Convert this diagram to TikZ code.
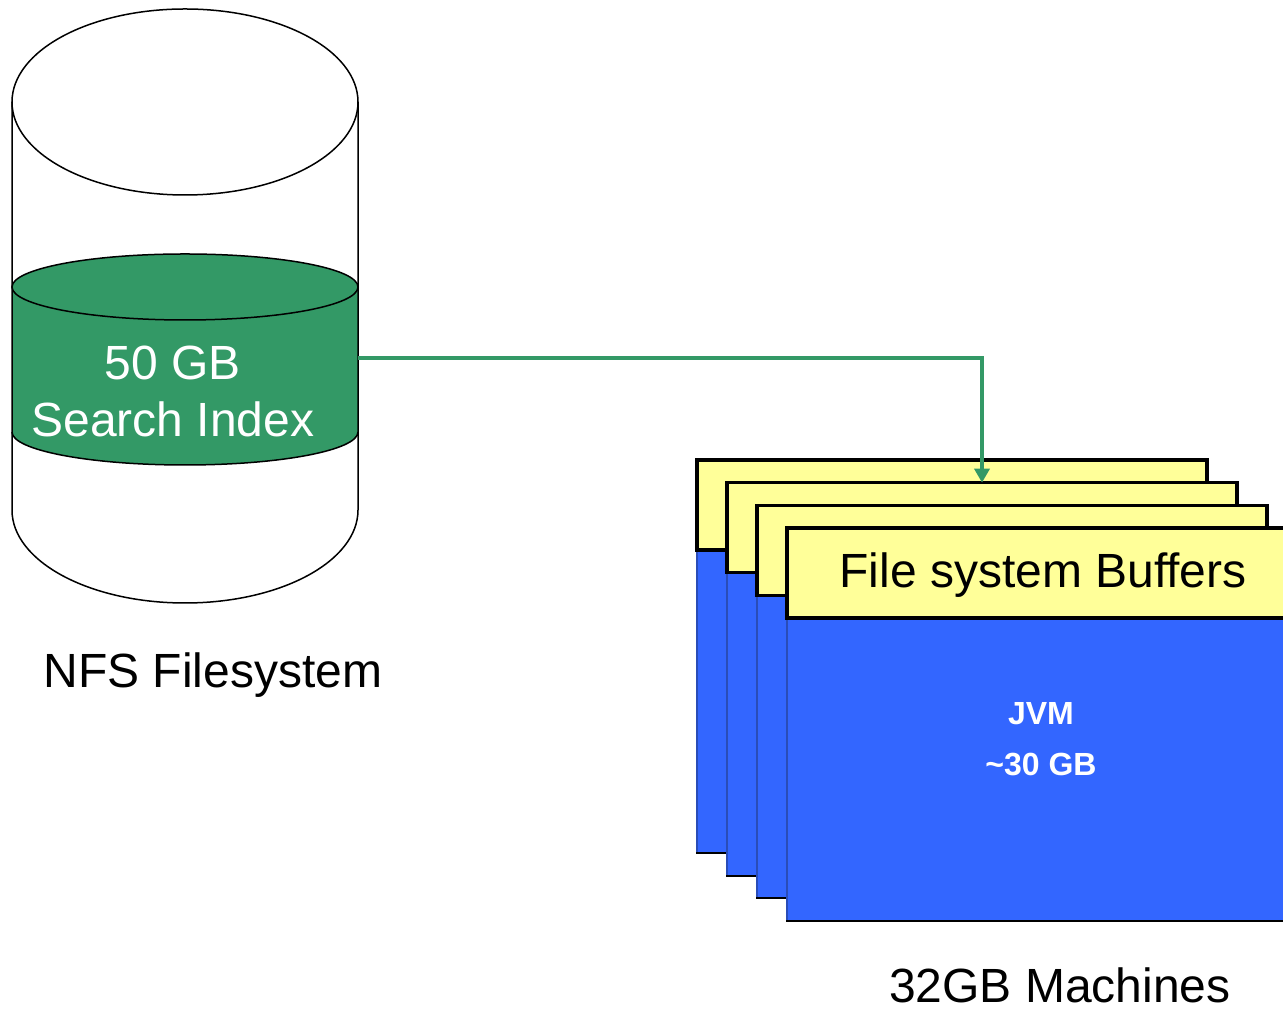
\documentclass[tikz,border=0pt]{standalone}
\usepackage{fontspec}
\setmainfont{Liberation Sans}
\usetikzlibrary{arrows.meta}
\definecolor{idxgreen}{HTML}{339966}
\definecolor{bufyellow}{HTML}{FFFF99}
\definecolor{jvmblue}{HTML}{3366FF}
\definecolor{jvmedge}{HTML}{2A4DB8}
\tikzset{
  outline/.style={draw=black, line width=1.5pt},
  bufbox/.style={draw=black, fill=bufyellow, line width=3.5pt, inner sep=0pt, outer sep=0pt,
     minimum width=510pt, minimum height=90pt, anchor=north west},
  jvmbox/.style={draw=jvmedge, fill=jvmblue, line width=2pt, inner sep=0pt, outer sep=0pt,
     minimum width=510pt, minimum height=303pt, anchor=north west},
  bigtext/.style={font=\fontsize{48}{57}\selectfont, inner sep=0pt, anchor=base},
  smalltext/.style={font=\fontsize{32}{38}\selectfont\bfseries, text=white, inner sep=0pt, anchor=base},
  link/.style={draw=idxgreen, line width=3.5pt, -{Triangle[length=14pt,width=15pt]}}
}
\begin{document}
\begin{tikzpicture}[x=1pt,y=1pt]
\useasboundingbox (0,0) rectangle (1283,1014);
\clip (0,0) rectangle (1283,1014);
% outer cylinder body
\fill[white] (12,912) -- (12,504) arc[start angle=180,end angle=360,x radius=173pt,y radius=93pt] -- (358,912) -- cycle;
% green index section
\fill[idxgreen] (12,727) -- (12,582) arc[start angle=180,end angle=360,x radius=173pt,y radius=33pt] -- (358,727) -- cycle;
\draw[outline] (12,582) arc[start angle=180,end angle=360,x radius=173pt,y radius=33pt];
\draw[outline, fill=idxgreen] (185,727) ellipse[x radius=173pt,y radius=33pt];
% outer cylinder outline
\draw[outline] (12,912) -- (12,504) arc[start angle=180,end angle=360,x radius=173pt,y radius=93pt] -- (358,912);
\draw[outline] (185,912) ellipse[x radius=173pt,y radius=93pt];
\node[minimum width=346pt, minimum height=145pt, inner sep=0pt, outer sep=0pt] (idx) at (185,656) {};
\node[bigtext, text=white] (l50) at (173,634) {50 GB};
\node[bigtext, text=white] (lsi) at (173,577) {Search Index};
\node[bigtext] (nfs) at (213,326) {NFS Filesystem};
% machine stack
\foreach \i in {0,1,2,3}{
  \pgfmathsetmacro{\bx}{697+30*\i}
  \pgfmathsetmacro{\by}{554-22.67*\i}
  \node[jvmbox] (jvm\i) at (\bx,\by-90) {};
  \draw[black, line width=2pt] (\bx-1,\by-393) -- (\bx+511,\by-393);
  \node[bufbox] (buf\i) at (\bx,\by) {};
}
\node[bigtext] (fsb) at (1043,426) {File system Buffers};
\node[smalltext] (ljvm) at (1041,289) {JVM};
\node[smalltext] (lgb) at (1041,238) {\textasciitilde30 GB};
\node[bigtext] (mach) at (1060,11) {32GB Machines};
% connector
\draw[link] (idx.east) -| (buf1.north);
\end{tikzpicture}
\end{document}
